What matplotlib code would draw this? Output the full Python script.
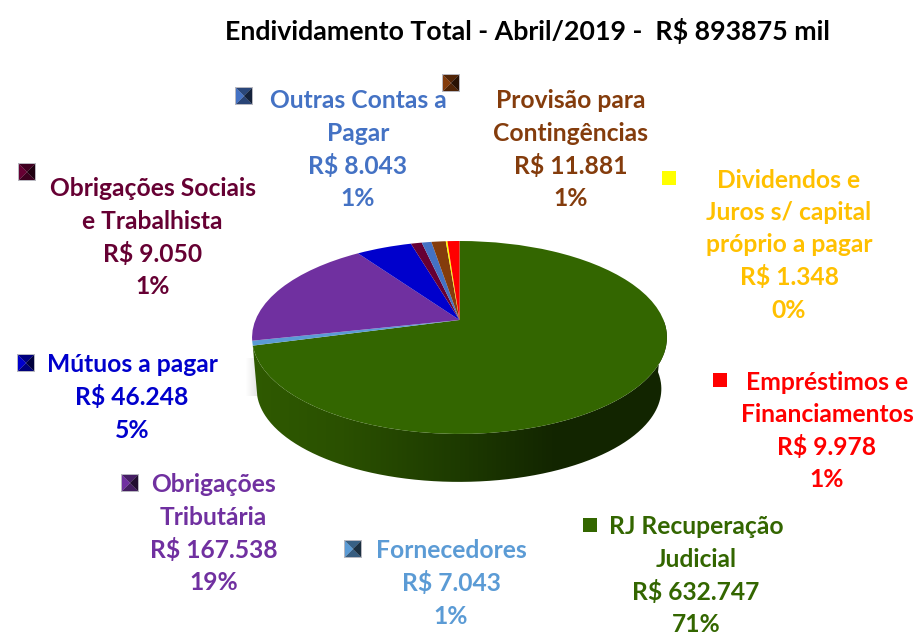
import numpy as np
import matplotlib
matplotlib.use("Agg")
import matplotlib.pyplot as plt
from matplotlib.transforms import Transform
from matplotlib.path import Path
from matplotlib.patches import PathPatch
from matplotlib.colors import LinearSegmentedColormap, to_rgb

plt.rcParams['font.family'] = ['Lato', 'DejaVu Sans']

# data
names = ["RJ Recuperação Judicial", "Fornecedores", "Obrigações Tributária", "Mútuos a pagar",
         "Obrigações Sociais e Trabalhista", "Outras Contas a Pagar", "Provisão para Contingências",
         "Dividendos e Juros s/ capital próprio a pagar", "Empréstimos e Financiamentos"]
values = [632747, 7043, 167538, 46248, 9050, 8043, 11881, 1348, 9978]
colors = ["#336600", "#5B9BD5", "#7030A0", "#0000CC", "#660033", "#4472C4", "#843C0C", "#FFFF00", "#FF0000"]
value_text = ["R$ 632.747", "R$ 7.043", "R$ 167.538", "R$ 46.248", "R$ 9.050", "R$ 8.043", "R$ 11.881", "R$ 1.348", "R$ 9.978"]
pct_text = ["71%", "1%", "19%", "5%", "1%", "1%", "1%", "0%", "1%"]
text_colors = ["#336600", "#5B9BD5", "#7030A0", "#0000CC", "#660033", "#4472C4", "#843C0C", "#FFC000", "#FF0000"]
title = "Endividamento Total - Abril/2019 -  R$ 893875 mil"

# layout: (centre x, first-line y, line texts, key x, key y, flat key)
labels = [
    (696, 527, ["RJ Recuperação", "Judicial"], 590, 525, True),
    (451, 551, ["Fornecedores"], 353, 549, False),
    (213.5, 485, ["Obrigações", "Tributária"], 130, 483, False),
    (132, 365, ["Mútuos a pagar"], 26, 363, False),
    (152.5, 189, ["Obrigações Sociais", "e Trabalhista"], 27, 172, False),
    (358, 101, ["Outras Contas a", "Pagar"], 244, 96, False),
    (571, 101, ["Provisão para", "Contingências"], 451, 83, False),
    (789, 180, ["Dividendos e", "Juros s/ capital", "próprio a pagar"], 669, 178, True),
    (827, 382, ["Empréstimos e", "Financiamentos"], 719.5, 380, True),
]
LINE = 32.5
FS = 17.7

fig = plt.figure(figsize=(9.18, 6.35), dpi=100)
ax = fig.add_axes([0, 0, 1, 1])


class Perspective(Transform):
    """Tilted-disc projection of the unit pie onto pixel coordinates."""
    input_dims = output_dims = 2
    is_affine = False

    def __init__(self, cx, cy, a, b, k):
        super().__init__()
        self.p = (cx, cy, a, b, k)

    def transform_non_affine(self, xy):
        cx, cy, a, b, k = self.p
        xy = np.asarray(xy, float)
        w = 1 + k * xy[:, 1]
        return np.column_stack([cx + a * xy[:, 0] / w, cy - b * xy[:, 1] / w])


top = Perspective(459.5, 320, 204, 93.3, 0.181)
wedges, _ = ax.pie(values, colors=colors, startangle=90, counterclock=False, radius=1.0)
ax.set_aspect('auto')
ax.set_xlim(0, 918)
ax.set_ylim(635, 0)
ax.axis('off')
for w in wedges:
    w.set_transform(top + ax.transData)
    w.set_zorder(5)
    w.set_linewidth(0)
    w.set_antialiased(True)

# rim of the disc, shaded from left to right
def rim(p, tt):
    return p.transform_non_affine(np.column_stack([np.cos(tt), np.sin(tt)]))
bottom = Perspective(459, 372, 199, 90.0, 0.181)
tt = np.linspace(np.radians(195), np.radians(360), 300)
upper = rim(top, tt)
lower = rim(bottom, tt[::-1])
side = Path(np.vstack([upper, lower, upper[:1]]))
cm = LinearSegmentedColormap.from_list("rim", [(0, "#2f5a00"), (0.22, "#2a5000"), (0.5, "#1d3a00"),
                                              (0.72, "#132600"), (1, "#122500")])
im = ax.imshow(np.linspace(0, 1, 256)[None, :], extent=(252, 668, 490, 300), cmap=cm, aspect='auto', zorder=3)
clip = PathPatch(side, transform=ax.transData, facecolor='none', edgecolor='none')
ax.add_patch(clip)
im.set_clip_path(clip)

# faint shadow at the left of the rim
shade = np.zeros((1, 32, 4))
shade[..., :3] = 0.5
shade[..., 3] = np.linspace(0, 0.28, 32) ** 1.2
ax.imshow(shade, extent=(245, 258, 396, 358), aspect='auto', zorder=2)
ax.set_xlim(0, 918)
ax.set_ylim(635, 0)

# title
ax.text(527.5, 31, title, ha='center', va='center', fontsize=19.3, fontweight='bold', color='black')


def bevel(cx, cy, col, s=8):
    c = np.array(to_rgb(col))
    ax.fill([cx - s - .7, cx + s + .7, cx + s + .7, cx - s - .7],
            [cy - s - .7, cy - s - .7, cy + s + .7, cy + s + .7], color="#b8b8c0", lw=0, zorder=6)
    faces = [
        ([(cx - s, cy - s), (cx + s, cy - s), (cx, cy)], c * 0.62),
        ([(cx - s, cy + s), (cx + s, cy + s), (cx, cy)], c * 0.6),
        ([(cx - s, cy - s), (cx - s, cy + s), (cx, cy)], c * 1.0),
        ([(cx + s, cy - s), (cx + s, cy + s), (cx, cy)], c * 0.3),
    ]
    for pts, fc in faces:
        ax.fill(*zip(*pts), color=np.clip(fc, 0, 1), lw=0, zorder=6.5)


for (cx, y0, lines, kx, ky, flat), vt, pt, col, tc in zip(labels, value_text, pct_text, colors, text_colors):
    all_lines = lines + [vt, pt]
    for i, s in enumerate(all_lines):
        ax.text(cx, y0 + i * LINE, s, ha='center', va='center', fontsize=FS, fontweight='bold', color=tc, zorder=7)
    if flat:
        ax.fill([kx - 7, kx + 7, kx + 7, kx - 7], [ky - 7, ky - 7, ky + 7, ky + 7], color=col, lw=0, zorder=6)
    else:
        bevel(kx, ky, col)

fig.savefig("out.png", dpi=100, facecolor='white')
